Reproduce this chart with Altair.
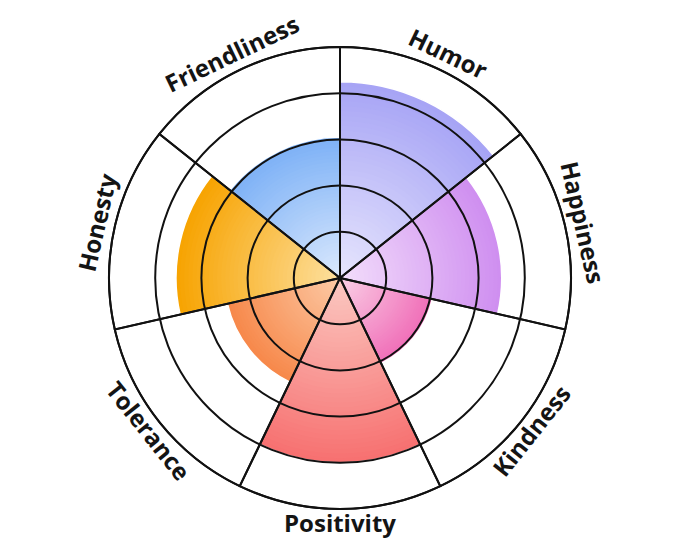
import altair as alt
import pandas as pd

# ---- data ----
categories = ["Humor", "Happiness", "Kindness", "Positivity", "Tolerance", "Honesty", "Friendliness"]
values = [4.25, 3.5, 2.05, 4.0, 2.5, 3.55, 3.05]
inner_colors = ["#e7e6fd", "#f3defb", "#fad0e6", "#fbc9c2", "#fccaa6", "#fde0a0", "#dbe9fd"]
outer_colors = ["#a6a3f5", "#cf8ef0", "#f06eb8", "#f77070", "#f7884a", "#f7a300", "#7db1f6"]
ring_levels = [1, 2, 3, 4, 5]
max_level = 5

N_BANDS = 40  # gradient smoothness (styling only)


def hex_to_rgb(h):
    h = h.lstrip("#")
    return [int(h[i:i + 2], 16) for i in (0, 2, 4)]


def mix(c1, c2, t):
    a, b = hex_to_rgb(c1), hex_to_rgb(c2)
    return "#" + "".join(f"{round(x + (y - x) * t):02x}" for x, y in zip(a, b))


n = len(categories)
step = 360.0 / n

slices = pd.DataFrame({
    "cat": categories,
    "value": values,
    "start": [i * step for i in range(n)],
    "end": [(i + 1) * step for i in range(n)],
})
slices["mid"] = (slices["start"] + slices["end"]) / 2
slices["rot"] = slices["mid"].apply(
    lambda m: m if (m < 90 or m > 270) else (m - 180) % 360
)
slices["rmax"] = max_level

band_rows = []
for k in range(N_BANDS - 1, -1, -1):
    frac = (k + 1) / N_BANDS
    t = (k + 0.5) / N_BANDS
    for i, c in enumerate(categories):
        band_rows.append({
            "cat": c,
            "start": slices.loc[i, "start"],
            "end": slices.loc[i, "end"],
            "r": values[i] * frac,
            "color": mix(inner_colors[i], outer_colors[i], t),
        })
bands = pd.DataFrame(band_rows)
rings = pd.DataFrame({"level": ring_levels, "a0": 0.0, "a1": 360.0})

theta_scale = alt.Scale(domain=[0, 360], range=[0, 6.283185307179586])
r_scale = alt.Scale(type="linear", domain=[0, max_level], range=[0, 231], zero=True)

fill_layer = alt.Chart(bands).mark_arc(strokeWidth=0).encode(
    theta=alt.Theta("start:Q", scale=theta_scale, stack=None),
    theta2="end:Q",
    radius=alt.Radius("r:Q", scale=r_scale),
    fill=alt.Fill("color:N", scale=None),
)

outline_layer = alt.Chart(slices).mark_arc(filled=False, stroke="white", strokeWidth=1.5).encode(
    theta=alt.Theta("start:Q", scale=theta_scale, stack=None),
    theta2="end:Q",
    radius=alt.Radius("value:Q", scale=r_scale),
)

ring_layer = alt.Chart(rings).mark_arc(filled=False, stroke="#111111", strokeWidth=2).encode(
    theta=alt.Theta("a0:Q", scale=theta_scale, stack=None),
    theta2="a1:Q",
    radius=alt.Radius("level:Q", scale=r_scale),
)

spoke_layer = alt.Chart(slices).mark_arc(filled=False, stroke="#111111", strokeWidth=2).encode(
    theta=alt.Theta("start:Q", scale=theta_scale, stack=None),
    theta2="end:Q",
    radius=alt.Radius("rmax:Q", scale=r_scale),
)

label_layer = alt.Chart(slices).mark_text(
    font="Open Sans", fontSize=24, fontWeight="bold", color="#141414",
    align="center", baseline="middle",
).encode(
    theta=alt.Theta("mid:Q", scale=theta_scale, stack=None),
    radius=alt.value(247),
    angle=alt.Angle("rot:Q", scale=None),
    text="cat:N",
)

chart = alt.layer(
    fill_layer, outline_layer, ring_layer, spoke_layer, label_layer
).properties(
    width=664, height=540, padding=0, autosize="none", background="white"
).configure_view(stroke=None)

chart.save("out.html", embed_options={"renderer": "svg", "actions": False})
